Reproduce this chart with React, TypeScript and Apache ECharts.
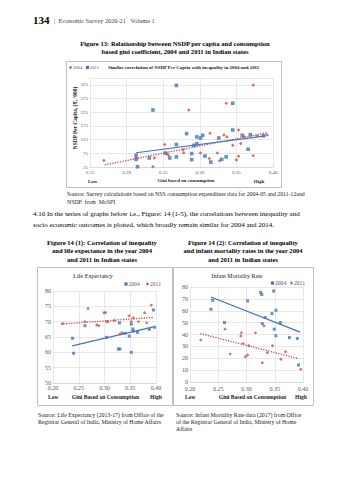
import React, { useEffect, useRef } from 'react';
import * as echarts from 'echarts';

const RED = '#C0504D';
const BLUE = '#4472C4';
const SERIF = '"Liberation Serif", "DejaVu Serif", serif';

// Figure 13: NSDP per capita ('000 Rs) vs Gini
const nsdp2004: number[][] = [
  [0.169, 49], [0.213, 58], [0.236, 26], [0.238, 58], [0.252, 107], [0.255, 74], [0.257, 68],
  [0.277, 88], [0.278, 77], [0.285, 233], [0.301, 76], [0.313, 56], [0.314, 148], [0.324, 76],
  [0.327, 48], [0.333, 142], [0.336, 258], [0.337, 135], [0.345, 104], [0.350, 51], [0.353, 64],
  [0.353, 160], [0.356, 111], [0.360, 136], [0.373, 66], [0.373, 324], [0.378, 139], [0.392, 142],
];
const nsdp2011: number[][] = [
  [0.213, 68], [0.213, 53], [0.215, 26], [0.231, 58], [0.236, 233], [0.253, 76], [0.259, 58],
  [0.268, 62], [0.268, 107], [0.268, 323], [0.282, 147], [0.289, 74], [0.289, 52], [0.292, 104],
  [0.296, 110], [0.296, 135], [0.301, 131], [0.304, 141], [0.307, 65], [0.315, 43], [0.326, 131],
  [0.330, 53], [0.336, 62], [0.345, 160], [0.345, 258], [0.358, 141], [0.366, 90], [0.369, 143],
  [0.387, 139],
];
const nsdpTrend2004: number[][] = [[0.17, 33], [0.393, 151]];
const nsdpTrend2011: number[][] = [[0.213, 77], [0.39, 139]];

// Figure 14 (1): Life expectancy vs Gini
const life2004: number[][] = [
  [0.238, 64.6], [0.240, 59.7], [0.262, 68.7], [0.304, 64.9], [0.327, 61.1], [0.330, 61.1],
  [0.329, 69.6], [0.340, 66.2], [0.348, 65.3], [0.352, 60.0], [0.352, 69.2], [0.355, 67.6],
  [0.356, 66.9], [0.364, 66.5], [0.387, 67.5], [0.395, 73.8], [0.397, 68.2],
];
const life2011: number[][] = [
  [0.219, 69.4], [0.262, 70.0], [0.268, 74.3], [0.285, 68.9], [0.289, 68.7], [0.299, 72.9],
  [0.302, 73.0], [0.304, 70.0], [0.307, 70.0], [0.319, 70.3], [0.330, 66.0], [0.334, 66.4],
  [0.348, 71.9], [0.352, 70.0], [0.356, 71.3], [0.366, 70.0], [0.378, 72.9], [0.382, 69.6],
  [0.391, 75.4],
];
const lifeTrend2004: number[][] = [[0.237, 62.1], [0.395, 68.3]];
const lifeTrend2011: number[][] = [[0.215, 69.2], [0.395, 71.4]];

// Figure 14 (2): Infant mortality rate vs Gini
const imr2004: number[][] = [
  [0.237, 61.3], [0.240, 68.8], [0.261, 50.1], [0.302, 68.3], [0.325, 75.5], [0.327, 73.6],
  [0.328, 49.2], [0.333, 54.3], [0.345, 57.6], [0.348, 76.6], [0.349, 44.5], [0.352, 60.4],
  [0.352, 38.9], [0.360, 50.1], [0.376, 37.5], [0.390, 36.6], [0.392, 14.3],
];
const imr2011: number[][] = [
  [0.219, 35.3], [0.262, 44.5], [0.271, 23.5], [0.290, 38.7], [0.291, 41.4], [0.294, 32.5],
  [0.298, 21.3], [0.302, 22.7], [0.304, 30.5], [0.316, 41.4], [0.328, 16.2], [0.331, 47.1],
  [0.337, 24.6], [0.346, 30.5], [0.361, 19.1], [0.369, 25.5], [0.396, 10.7],
];
const imrTrend2004: number[][] = [[0.237, 71.6], [0.395, 42.0]];
const imrTrend2011: number[][] = [[0.218, 40.8], [0.39, 19.9]];

function txt(x: number, y: number, text: string, size: number, opts: any = {}) {
  const align = opts.align || 'left';
  return {
    type: 'text',
    x,
    y,
    rotation: opts.rotation || 0,
    silent: true,
    style: {
      text,
      fontSize: size,
      fontFamily: opts.family || SERIF,
      fontWeight: opts.bold ? 'bold' : 'normal',
      fontStyle: opts.italic ? 'italic' : 'normal',
      fill: opts.color || '#000',
      align,
      textAlign: align,
      verticalAlign: 'middle',
      textVerticalAlign: 'middle',
    },
  };
}

function box(x: number, y: number, w: number, h: number) {
  return {
    type: 'rect',
    shape: { x: x + 0.5, y: y + 0.5, width: w, height: h },
    silent: true,
    style: { fill: 'none', stroke: '#bfbfbf', lineWidth: 1 },
  };
}

function legendMark(x: number, y: number, color: string, kind: 'rect' | 'diamond') {
  if (kind === 'rect') {
    return { type: 'rect', silent: true, shape: { x: x - 1.6, y: y - 1.6, width: 3.2, height: 3.2 }, style: { fill: color } };
  }
  return {
    type: 'polygon',
    silent: true,
    shape: { points: [[x, y - 1.8], [x + 1.5, y], [x, y + 1.8], [x - 1.5, y]] },
    style: { fill: color },
  };
}

const fmt2 = (v: number) => v.toFixed(2);

function xAxis(gridIndex: number, min: number, size: number, margin: number) {
  return {
    type: 'value',
    gridIndex,
    min,
    max: 0.4,
    interval: 0.05,
    axisLine: { show: true, lineStyle: { color: '#d9d9d9' } },
    axisTick: { show: false },
    splitLine: { show: true, lineStyle: { color: '#d9d9d9', width: 0.6 } },
    axisLabel: { formatter: fmt2, fontSize: size, color: '#595959', fontFamily: SERIF, margin },
  };
}

function yAxis(gridIndex: number, min: number, max: number, interval: number, size: number, hideMax: boolean) {
  return {
    type: 'value',
    gridIndex,
    min,
    max,
    interval,
    axisLine: { show: false },
    axisTick: { show: false },
    splitLine: { show: true, lineStyle: { color: '#d9d9d9', width: 0.6 } },
    axisLabel: {
      fontSize: size,
      color: '#595959',
      fontFamily: SERIF,
      margin: 2,
      showMaxLabel: !hideMax,
    },
  };
}

function scatter(name: string, data: number[][], idx: number, color: string, symbol: string, size: number) {
  return {
    type: 'scatter',
    name,
    xAxisIndex: idx,
    yAxisIndex: idx,
    data,
    symbol,
    symbolSize: size,
    itemStyle: { color },
    silent: true,
  };
}

function trend(name: string, data: number[][], idx: number, color: string, dotted: boolean) {
  return {
    type: 'line',
    name,
    xAxisIndex: idx,
    yAxisIndex: idx,
    data,
    showSymbol: false,
    symbol: 'none',
    lineStyle: { color, width: dotted ? 1.3 : 1.2, type: dotted ? 'dotted' : 'solid' },
    silent: true,
    z: 1,
  };
}

export default function App() {
  const ref = useRef<HTMLDivElement>(null);

  useEffect(() => {
    if (!ref.current) return;
    const chart = echarts.init(ref.current, null, { renderer: 'svg' });
    const option: any = {
      animation: false,
      backgroundColor: '#ffffff',
      grid: [
        { left: 90, top: 78, width: 183, height: 89 },
        { left: 53, top: 291, width: 103, height: 92 },
        { left: 190, top: 287, width: 113, height: 95 },
      ],
      xAxis: [xAxis(0, 0.15, 5, 3), xAxis(1, 0.2, 6, 1.5), xAxis(2, 0.2, 6, 4)],
      yAxis: [yAxis(0, 25, 350, 50, 5, true), yAxis(1, 50, 80, 5, 6, false), yAxis(2, 0, 80, 10, 6, false)],
      series: [
        trend('2004 trend', nsdpTrend2004, 0, RED, true),
        trend('2011 trend', nsdpTrend2011, 0, BLUE, false),
        scatter('2011', nsdp2011, 0, BLUE, 'rect', 3.6),
        scatter('2004', nsdp2004, 0, RED, 'diamond', 3.6),
        trend('LE 2004 trend', lifeTrend2004, 1, BLUE, false),
        trend('LE 2011 trend', lifeTrend2011, 1, RED, true),
        scatter('LE 2004', life2004, 1, BLUE, 'rect', 3),
        scatter('LE 2011', life2011, 1, RED, 'diamond', 3.4),
        trend('IMR 2004 trend', imrTrend2004, 2, BLUE, false),
        trend('IMR 2011 trend', imrTrend2011, 2, RED, true),
        scatter('IMR 2004', imr2004, 2, BLUE, 'rect', 3),
        scatter('IMR 2011', imr2011, 2, RED, 'diamond', 3.4),
      ],
      graphic: [
        // header
        txt(33, 20, '134', 11, { bold: true }),
        txt(54, 20, '|  Economic Survey 2020-21   Volume 1', 6.3, { color: '#444' }),
        // Figure 13 title
        txt(175, 43, 'Figure 13: Relationship between NSDP per capita and consumption', 6.6, { bold: true, align: 'center' }),
        txt(175, 51.5, 'based gini coefficient, 2004 and 2011 in Indian states', 6.6, { bold: true, align: 'center' }),
        box(66, 61, 215, 126),
        legendMark(70.5, 67.5, RED, 'diamond'),
        txt(73, 67.5, '2004', 4.6, { color: '#595959' }),
        legendMark(87.5, 67.5, BLUE, 'rect'),
        txt(90, 67.5, '2011', 4.6, { color: '#595959' }),
        txt(108, 67, 'Similar correlation of NSDP Per Capita with inequality in 2004 and 2011', 4.9, { bold: true, color: '#222' }),
        txt(75, 118, "NSDP Per Capita, (\u20B9, '000)", 5.4, { bold: true, color: '#222', align: 'center', rotation: Math.PI / 2 }),
        txt(88, 181, 'Low', 4.9, { bold: true, color: '#222' }),
        txt(186, 180.5, 'Gini based on consumption', 4.9, { bold: true, color: '#222', align: 'center' }),
        txt(259, 181, 'High', 4.9, { bold: true, color: '#222', align: 'center' }),
        // source 13
        txt(67, 193.5, 'Source: Survey calculations based on NSS consumption expenditure data for 2004-05 and 2011-12and', 5.8, { color: '#222' }),
        txt(67, 201.5, 'NSDP  from  MoSPI', 5.8, { color: '#222' }),
        // paragraph
        txt(33, 214, '4.10 In the series of graphs below i.e., Figure: 14 (1-5), the correlations between inequality and', 7, {}),
        txt(33, 224.5, 'socio economic outcomes is plotted, which broadly remain similar for 2004 and 2014.', 7, {}),
        // Figure 14 titles
        txt(102, 242, 'Figure 14 (1): Correlation of inequality', 6.6, { bold: true, align: 'center' }),
        txt(102, 250.5, 'and life expectance in the year 2004', 6.6, { bold: true, align: 'center' }),
        txt(102, 259, 'and 2011 in Indian states', 6.6, { bold: true, align: 'center' }),
        txt(243, 242, 'Figure 14 (2): Correlation of inequality', 6.6, { bold: true, align: 'center' }),
        txt(243, 250.5, 'and infant mortality rates in the year 2004', 6.6, { bold: true, align: 'center' }),
        txt(243, 259, 'and 2011 in Indian states', 6.6, { bold: true, align: 'center' }),
        // left chart
        box(37, 267, 135, 138),
        txt(93, 276, 'Life Expectancy', 6, { align: 'center', color: '#222' }),
        legendMark(126, 284, BLUE, 'rect'),
        txt(128.5, 284, '2004', 5.6, { color: '#595959' }),
        legendMark(147.5, 284, RED, 'diamond'),
        txt(150, 284, '2011', 5.6, { color: '#595959' }),
        txt(48, 397, 'Low', 5.6, { bold: true, color: '#222' }),
        txt(105.5, 397, 'Gini Based on Consumption', 5.6, { bold: true, color: '#222', align: 'center' }),
        txt(156, 397, 'High', 5.6, { bold: true, color: '#222', align: 'center' }),
        // right chart
        box(173, 267, 140, 138),
        txt(237, 276, 'Infant Mortality Rate', 6, { align: 'center', color: '#222' }),
        legendMark(272.5, 283, BLUE, 'rect'),
        txt(275, 283, '2004', 5.6, { color: '#595959' }),
        legendMark(291.5, 283, RED, 'diamond'),
        txt(294, 283, '2011', 5.6, { color: '#595959' }),
        txt(185, 397, 'Low', 5.6, { bold: true, color: '#222' }),
        txt(252.5, 397, 'Gini Based on Consumption', 5.6, { bold: true, color: '#222', align: 'center' }),
        txt(301, 397, 'High', 5.6, { bold: true, color: '#222', align: 'center' }),
        // sources 14
        txt(38, 414.5, 'Source: Life Expectancy (2013-17) from Office of the', 5.8, { color: '#222' }),
        txt(38, 421.5, 'Registrar General of India, Ministry of Home Affairs', 5.8, { color: '#222' }),
        txt(176, 414.5, 'Source: Infant Mortality Rate data (2017) from Office', 5.8, { color: '#222' }),
        txt(176, 421.5, 'of the Registrar General of India, Ministry of Home', 5.8, { color: '#222' }),
        txt(176, 428.5, 'Affairs', 5.8, { color: '#222' }),
      ],
    };
    chart.setOption(option);
    return () => chart.dispose();
  }, []);

  return (
    <div
      ref={ref}
      style={{ position: 'absolute', left: 0, top: 0, width: 349, height: 480, background: '#fff' }}
    />
  );
}
